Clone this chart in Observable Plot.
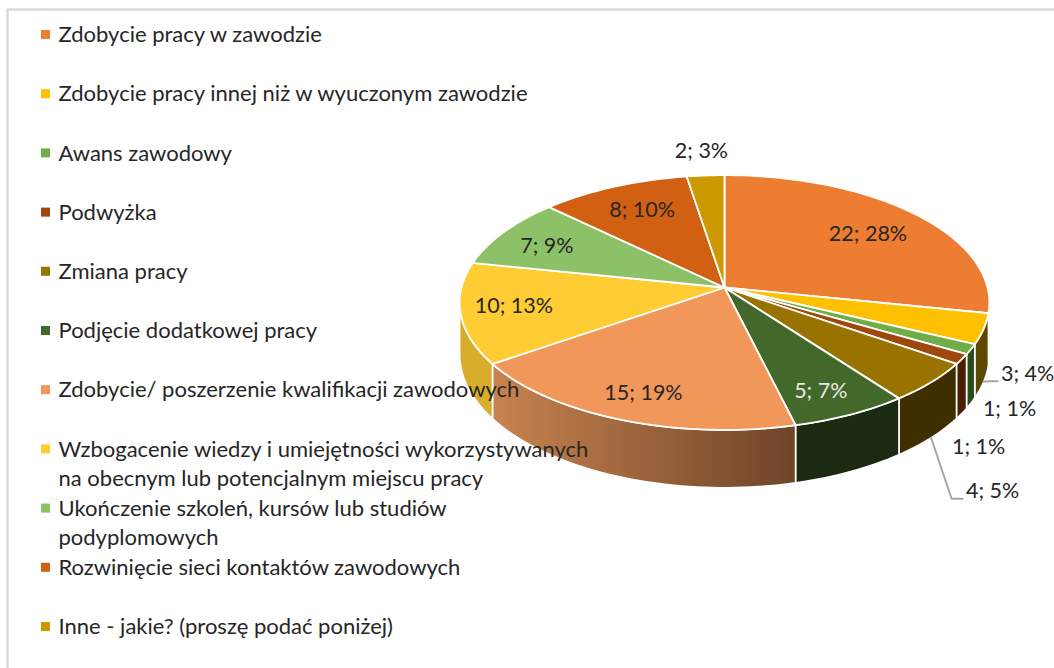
<!DOCTYPE html>
<html>
<head>
<meta charset="utf-8">
<script src="https://cdn.jsdelivr.net/npm/d3@7"></script>
<script src="https://cdn.jsdelivr.net/npm/@observablehq/plot@0.6"></script>
<style>html,body{margin:0;padding:0;background:#fff}svg{display:block}</style>
</head>
<body>
<div id="chart"></div>
<script>
// ---- data ----
const categories = [
  "Zdobycie pracy w zawodzie",
  "Zdobycie pracy innej niż w wyuczonym zawodzie",
  "Awans zawodowy",
  "Podwyżka",
  "Zmiana pracy",
  "Podjęcie dodatkowej pracy",
  "Zdobycie/ poszerzenie kwalifikacji zawodowych",
  "Wzbogacenie wiedzy i umiejętności wykorzystywanych\nna obecnym lub potencjalnym miejscu pracy",
  "Ukończenie szkoleń, kursów lub studiów\npodyplomowych",
  "Rozwinięcie sieci kontaktów zawodowych",
  "Inne - jakie? (proszę podać poniżej)"
];
const counts = [22, 3, 1, 1, 4, 5, 15, 10, 7, 8, 2];
const percents = [28, 4, 1, 1, 5, 7, 19, 13, 9, 10, 3];

// ---- styles ----
const topColors = ["#ED7D31","#FFC000","#70AD47","#9E480E","#997300","#43682B","#F1975A","#FFCD33","#8CC168","#D26012","#CC9A00"];
const wallColors = [null,"#5E4700","#2C4A1B","#4A1E05","#3F2E00","#1B2A10","url(#wall15)","#D8AD2B",null,null,null];
const labelColors = ["#262626","#262626","#262626","#262626","#262626","#E8E8E8","#262626","#262626","#262626","#262626","#262626"];

// ---- layout: label radius (fraction of pie radius) and turn from slice mid-angle (degrees) ----
const labelRadius = [0.727,1.241,1.303,1.387,1.608,0.821,0.813,0.801,0.781,0.744,1.25];
const labelTurn   = [1.4,12.3,14,20.4,14,1.4,-0.6,0.8,-1.8,0.7,0];
const leaderSlices = [1,4];

const W = 1054, H = 668;
const cx = 724, cy = 287, R = 263, A = 125.6, k = 0.118, depth = 51;
const rad = Math.PI / 180;
function project(deg, r = 1) {
  const u = r * Math.sin(deg * rad), v = r * Math.cos(deg * rad), w = 1 + k * v;
  return [cx + R * u / w, cy - A * v / w, depth / w];
}
const total = d3.sum(counts);
let acc = 0;
const slices = counts.map((c, i) => {
  const start = acc / total * 360; acc += c;
  const end = acc / total * 360;
  return {i, start, end, mid: (start + end) / 2};
});
const arc = (a, b) => {
  const n = Math.max(2, Math.ceil((b - a) / 1.5));
  return d3.range(n + 1).map(j => a + (b - a) * j / n);
};
const visLo = Math.acos(-k) / rad, visHi = 360 - visLo;

const wallPts = [];
slices.forEach(s => {
  const col = wallColors[s.i];
  if (!col) return;
  const a = Math.max(s.start, visLo), b = Math.min(s.end, visHi);
  if (b <= a) return;
  const angles = arc(a, b);
  angles.forEach(t => { const [x, y] = project(t); wallPts.push({id: s.i, x, y, col}); });
  angles.slice().reverse().forEach(t => { const [x, y, d] = project(t); wallPts.push({id: s.i, x, y: y + d, col}); });
});
const topPts = [];
slices.forEach(s => {
  topPts.push({id: s.i, x: cx, y: cy, col: topColors[s.i]});
  arc(s.start, s.end).forEach(t => { const [x, y] = project(t); topPts.push({id: s.i, x, y, col: topColors[s.i]}); });
});
const labels = slices.map(s => {
  const [x, y] = project(s.mid + labelTurn[s.i], labelRadius[s.i]);
  return {x, y, text: `${counts[s.i]}; ${percents[s.i]}%`, col: labelColors[s.i]};
});
const leaderPts = [];
leaderSlices.forEach(i => {
  const [x0, y0, d0] = project(slices[i].mid);
  const l = labels[i];
  leaderPts.push({id: i, x: x0, y: y0 + d0});
  leaderPts.push({id: i, x: l.x - 41, y: l.y + 7.5});
  leaderPts.push({id: i, x: l.x - 30, y: l.y + 7.5});
});
const legendTop = 33, legendStep = 59.2, legendSize = 22, labelSize = 21.5;
const legend = categories.map((name, i) => ({name, col: topColors[i], y: legendTop + i * legendStep}));

const defs = () => {
  const d = d3.create("svg:defs");
  d.html(`<linearGradient id="wall15" x1="0" x2="1" y1="0" y2="0"><stop offset="0" stop-color="#C8834F"/><stop offset="1" stop-color="#6E4429"/></linearGradient>`);
  return d.node();
};

const plot = Plot.plot({
  width: W, height: H, margin: 0,
  style: {background: "#fff", fontFamily: "Lato, sans-serif"},
  x: {domain: [0, W], range: [0, W], axis: null},
  y: {domain: [0, H], range: [0, H], axis: null},
  color: {type: "identity"},
  marks: [
    defs,
    Plot.ruleX([7], {y1: 9, y2: H, stroke: "#d9d9d9", strokeWidth: 2.5}),
    Plot.ruleY([9], {x1: 7, x2: W, stroke: "#d9d9d9", strokeWidth: 2.5}),
    Plot.line(wallPts, {x: "x", y: "y", z: "id", fill: "col", stroke: "#fff", strokeWidth: 1.6, curve: "linear-closed", strokeLinejoin: "round"}),
    Plot.line(topPts, {x: "x", y: "y", z: "id", fill: "col", stroke: "#fff", strokeWidth: 1.8, curve: "linear-closed", strokeLinejoin: "round"}),
    Plot.line(leaderPts, {x: "x", y: "y", z: "id", stroke: "#A6A6A6", strokeWidth: 2}),
    Plot.text(labels, {x: "x", y: "y", text: "text", fill: "col", fontSize: labelSize, textAnchor: "middle"}),
    Plot.dot(legend, {x: () => 45, y: d => d.y + 1, symbol: "square", r: 5.1, fill: "col", stroke: "none"}),
    Plot.text(legend, {x: () => 58, y: "y", dy: -12.2, text: "name", fill: "#262626", fontSize: legendSize, textAnchor: "start", lineAnchor: "top", lineHeight: 29.4 / legendSize})
  ]
});
document.getElementById("chart").appendChild(plot);
</script>
</body>
</html>
